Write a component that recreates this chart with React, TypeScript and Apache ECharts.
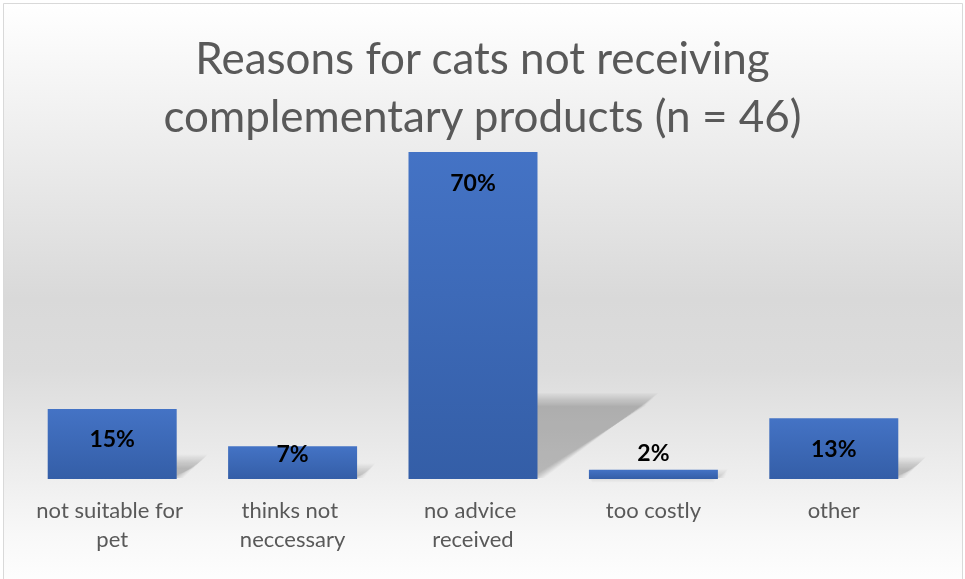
import React, { useEffect, useRef } from "react";
import * as echarts from "echarts";

const TITLE = "Reasons for cats not receiving\ncomplementary products (n = 46)";
const categories = [
  "not suitable for pet",
  "thinks not neccessary",
  "no advice received",
  "too costly",
  "other",
];
const values = [15, 7, 70, 2, 13];

const FONT = "Lato, 'Noto Sans', sans-serif";

export default function App() {
  const ref = useRef<HTMLDivElement>(null);
  useEffect(() => {
    if (!ref.current) return;
    const chart = echarts.init(ref.current, undefined, { renderer: "svg" });
    const labelFor = (i: number) => {
      if (values[i] < 5) return { position: "top", distance: 6 };
      if (values[i] < 10) return { position: "insideTop", distance: -5 };
      return { position: "insideTop", distance: 18 };
    };
    chart.setOption({
      animation: false,
      graphic: [
        {
          type: "rect",
          z: -10,
          silent: true,
          shape: { x: 3.5, y: 3.5, width: 959, height: 590 },
          style: {
            fill: new echarts.graphic.LinearGradient(0, 0, 0, 1, [
              { offset: 0, color: "#ffffff" },
              { offset: 0.5, color: "#d9d9d9" },
              { offset: 0.62, color: "#dcdcdc" },
              { offset: 0.9, color: "#f8f8f8" },
              { offset: 1, color: "#ffffff" },
            ]),
            stroke: "#d9d9d9",
            lineWidth: 1,
          },
        },
      ],
      title: {
        text: TITLE,
        left: "center",
        top: 28,
        padding: 0,
        textStyle: {
          fontFamily: FONT,
          fontSize: 44,
          fontWeight: "normal",
          color: "#595959",
          lineHeight: 58,
        },
      },
      grid: { left: 22, right: 41, top: 152, bottom: 100, containLabel: false },
      xAxis: {
        type: "category",
        data: categories,
        axisLine: { show: false },
        axisTick: { show: false },
        axisLabel: {
          interval: 0,
          fontFamily: FONT,
          fontSize: 22,
          lineHeight: 29,
          color: "#595959",
          margin: 16,
          width: 165,
          overflow: "break",
        },
      },
      yAxis: { type: "value", min: 0, max: 70, show: false },
      series: [
        {
          type: "custom",
          silent: true,
          z: 1,
          data: values.map((v, i) => [i, v]),
          renderItem: (params: any, api: any) => {
            const idx = api.value(0);
            const v = api.value(1);
            const top = api.coord([idx, v]);
            const base = api.coord([idx, 0]);
            const bw = api.size([1, 0])[0] * 0.715;
            const h = base[1] - top[1];
            const left = base[0] - bw / 2;
            const right = base[0] + bw / 2;
            const by = base[1] - 1;
            const sh = h * 0.24;
            const sk = h * 0.35;
            const layers = [];
            const N = 12;
            for (let j = 0; j < N; j++) {
              const e = (j - (N - 1) / 2) * 1.2;
              layers.push({
                type: "polygon",
                shape: {
                  points: [
                    [left, by],
                    [right + e, by],
                    [right + sk + e, by - sh - e],
                    [left + sk, by - sh - e],
                  ],
                },
                style: { fill: "rgba(0,0,0,0.018)" },
              });
            }
            return { type: "group", children: layers };
          },
        },
        {
          type: "bar",
          z: 2,
          barCategoryGap: "28.5%",
          data: values.map((v, i) => ({ value: v, label: labelFor(i) })),
          itemStyle: {
            color: new echarts.graphic.LinearGradient(0, 0, 0, 1, [
              { offset: 0, color: "#4473c5" },
              { offset: 1, color: "#345ea7" },
            ]),
          },
          label: {
            show: true,
            formatter: "{c}%",
            fontFamily: FONT,
            fontSize: 23,
            fontWeight: "bold",
            color: "#000000",
          },
        },
      ],
    });
    return () => chart.dispose();
  }, []);
  return (
    <div
      ref={ref}
      style={{ position: "fixed", left: 0, top: 0, width: 965, height: 579 }}
    />
  );
}
